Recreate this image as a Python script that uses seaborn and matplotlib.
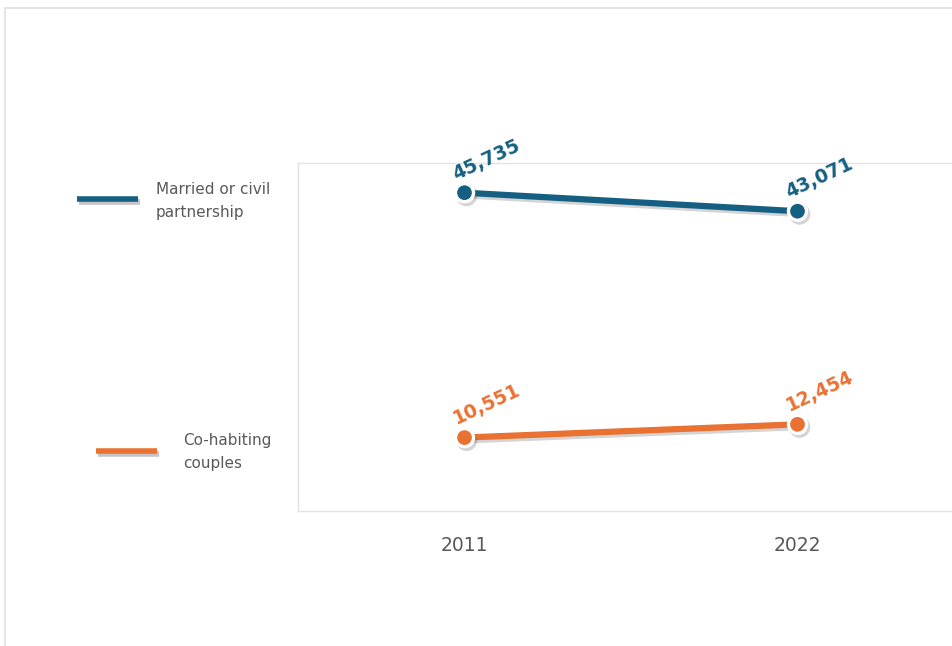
import matplotlib
matplotlib.use("Agg")
import matplotlib.pyplot as plt
import matplotlib.patheffects as pe
from matplotlib.lines import Line2D
from matplotlib.patches import Rectangle
import seaborn as sns
import pandas as pd

years = ["2011", "2022"]
series_names = ["Married or civil\npartnership", "Co-habiting\ncouples"]
married = [45735, 43071]
cohabiting = [10551, 12454]
colors = ["#156082", "#E97132"]

df = pd.DataFrame({
    "year": years * 2,
    "value": married + cohabiting,
    "series": [series_names[0]] * 2 + [series_names[1]] * 2,
})

sns.set_theme(style="white")
plt.rcParams["font.family"] = ["DejaVu Sans"]

fig = plt.figure(figsize=(9.52, 6.46), dpi=100)
fig.patch.set_facecolor("white")
# outer frame
fig.add_artist(Rectangle((5 / 952, -0.1), 1.2, (646 - 8) / 646 + 0.1,
                         transform=fig.transFigure, fill=False,
                         edgecolor="#E3E3E3", linewidth=1.3))

ax = fig.add_axes([298 / 952, (646 - 511) / 646, (964 - 298) / 952, (511 - 163) / 646])
sns.lineplot(data=df, x="year", y="value", hue="series", palette=colors,
             linewidth=4.5, marker="o", markersize=13, markeredgecolor="white",
             markeredgewidth=2.4, legend=False, ax=ax, sort=False)

shadow = [pe.SimpleLineShadow(offset=(1.5, -2), alpha=0.25, shadow_color="#555555"), pe.Normal()]
for ln in ax.lines:
    ln.set_path_effects(shadow)
    ln.set_solid_capstyle("butt")

ax.set_xlim(-0.5, 1.5)
ax.set_ylim(0, 50000)
ax.set_xlabel("")
ax.set_ylabel("")
ax.set_yticks([])
ax.tick_params(axis="x", length=0, pad=18, labelsize=13.5, labelcolor="#595959")
for s in ax.spines.values():
    s.set_color("#E3E3E3")
    s.set_linewidth(1.0)

# data labels
for vals, col in zip([married, cohabiting], colors):
    for i, v in enumerate(vals):
        ax.annotate(f"{v:,}", (i, v), xytext=(22, 33), textcoords="offset pixels",
                    ha="center", va="center", rotation=25, rotation_mode="anchor",
                    fontsize=13.5, fontweight="bold", color=col)

# custom legend
leg_specs = [(77, 138, 199, 156, 201), (96, 157, 451, 183, 452)]
for (x0, x1, y, tx, ty), name, col in zip(leg_specs, series_names, colors):
    fig.add_artist(Line2D([x0 / 952, x1 / 952], [1 - y / 646, 1 - y / 646],
                          transform=fig.transFigure, color=col, linewidth=4,
                          solid_capstyle="butt",
                          path_effects=[pe.SimpleLineShadow(offset=(1.5, -2), alpha=0.25), pe.Normal()]))
    fig.text(tx / 952, 1 - ty / 646, name, ha="left", va="center", fontsize=11,
             color="#595959", linespacing=1.7)

fig.savefig("out.png", dpi=100, facecolor="white")
